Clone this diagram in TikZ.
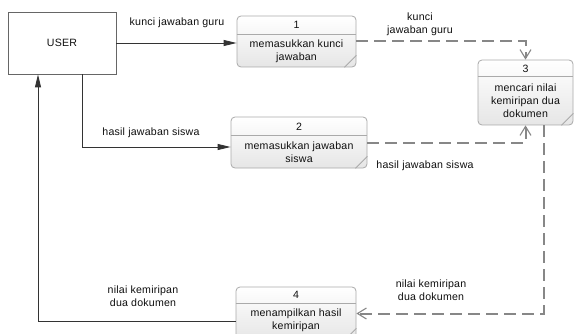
\documentclass[tikz,border=0pt]{standalone}
\usepackage{fontspec}
\setmainfont[LetterSpace=2]{Liberation Sans}
\usetikzlibrary{arrows.meta,calc}
\definecolor{procborder}{RGB}{170,170,170}
\definecolor{procfill}{RGB}{230,230,230}
\definecolor{dashgray}{RGB}{135,135,135}
\definecolor{txt}{RGB}{15,15,15}
\begin{document}
\begin{tikzpicture}[x=1pt,y=-1pt,
  font=\fontsize{10.6}{13}\selectfont,
  proc/.style={draw=procborder, rounded corners=4pt, top color=white, bottom color=procfill, line width=0.8pt, inner sep=0pt},
  sep/.style={draw=procborder, line width=0.8pt},
  lbl/.style={align=center, inner sep=0pt, text=txt},
  flow/.style={draw=black!80, line width=0.9pt, -{Triangle[length=13pt,width=6pt]}},
  dflow/.style={draw=dashgray, line width=2pt, dash pattern=on 12pt off 6pt, -{Straight Barb[length=9pt,width=11pt,line width=1.1pt]}}
]
\useasboundingbox (0,0) rectangle (575,334);
\fill[white] (0,0) rectangle (575,334);

% external entity
\node[draw=black!60, line width=0.8pt, minimum width=108pt, minimum height=62pt, inner sep=0pt, text=txt] (user) at (62,43) {USER};

% processes
\node[proc, minimum width=119pt, minimum height=51pt] (b1) at (296.5,41.5) {};
\node[proc, minimum width=136pt, minimum height=51pt] (b2) at (299,142.5) {};
\node[proc, minimum width=95pt, minimum height=65pt] (b3) at (525.5,92.5) {};
\node[proc, minimum width=120pt, minimum height=53pt] (b4) at (296,313.5) {};

% dividers
\draw[sep] ([yshift=-19pt]b1.north west) -- ([yshift=-19pt]b1.north east);
\draw[sep] ([yshift=-19pt]b2.north west) -- ([yshift=-19pt]b2.north east);
\draw[sep] ([yshift=-17pt]b3.north west) -- ([yshift=-17pt]b3.north east);
\draw[sep] ([yshift=-17pt]b4.north west) -- ([yshift=-17pt]b4.north east);

% fold marks
\foreach \b in {b1,b2,b3,b4}
  \draw[sep] ([yshift=12pt]\b.south east) -- ([xshift=-12pt]\b.south east);

% process texts
\node[lbl] (n1) at (296.5,25) {1};
\node[lbl] (t1) at (296.5,51) {memasukkan kunci\\jawaban};
\node[lbl] (n2) at (299,127) {2};
\node[lbl] (t2) at (299,152.5) {memasukkan jawaban\\siswa};
\node[lbl] (n3) at (525.5,69) {3};
\node[lbl] (t3) at (525.5,101) {mencari nilai\\kemiripan dua\\dokumen};
\node[lbl] (n4) at (296,295) {4};
\node[lbl] (t4) at (296,320) {menampilkan hasil\\kemiripan};

% flows
\draw[flow] (user.east) -- (user.east -| b1.west);
\draw[flow] ([xshift=20pt]user.south) |- ([yshift=-4.5pt]b2.west);
\draw[flow] ([yshift=-7.5pt]b4.west) -| ([xshift=-24pt]user.south);
\draw[dflow] (b1.east) -| (b3.north);
\draw[dflow] (b2.east) -| (b3.south);
\draw[dflow] ([xshift=18pt]b3.south) |- (b4.east);

% flow labels
\node[lbl] (l1) at (177,23) {kunci jawaban guru};
\node[lbl] (l2) at (420,24) {kunci\\jawaban guru};
\node[lbl] (l3) at (151,133) {hasil jawaban siswa};
\node[lbl] (l4) at (425,166) {hasil jawaban siswa};
\node[lbl] (l5) at (431,290) {nilai kemiripan\\dua dokumen};
\node[lbl] (l6) at (143,296) {nilai kemiripan\\dua dokumen};
\end{tikzpicture}
\end{document}
